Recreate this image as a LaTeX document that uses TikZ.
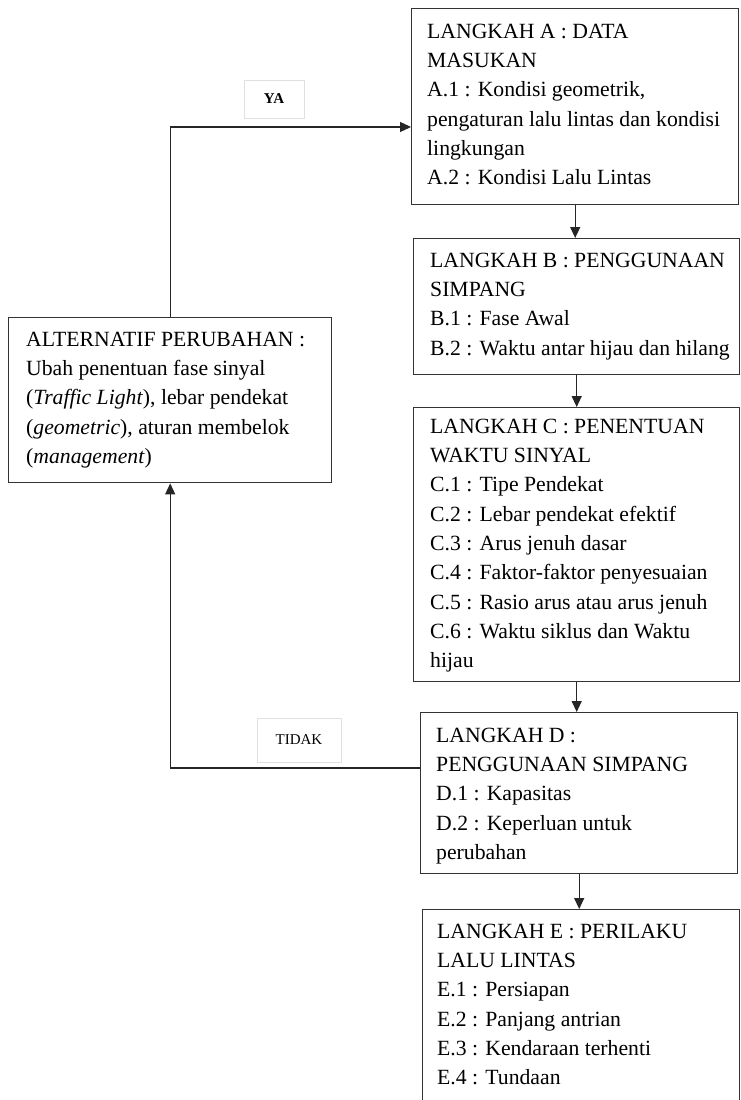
\documentclass[tikz,border=0pt]{standalone}
\usepackage{fontspec}
\setmainfont{Liberation Serif}
\usetikzlibrary{arrows.meta}
\begin{document}
\begin{tikzpicture}[x=1pt,y=-1pt,
  boxshape/.style={draw=black!80, line width=1.4pt, inner sep=0pt, anchor=north west},
  txt/.style={inner sep=0pt, anchor=north west, align=left, font=\fontsize{21.7}{29.3}\selectfont},
  lbl/.style={draw=black!12, line width=0.8pt, inner sep=0pt, font=\fontsize{15}{17}\selectfont},
  conn/.style={line width=1.3pt, draw=black!85},
  arr/.style={conn, -{Triangle[length=11pt,width=10pt]}}]
\useasboundingbox (0,0) rectangle (740,1100);
\fill[white] (0,0) rectangle (740,1100);

% boxes
\node[boxshape, minimum width=327pt, minimum height=196pt] (A) at (411,8) {};
\node[boxshape, minimum width=326pt, minimum height=136pt] (B) at (413,238) {};
\node[boxshape, minimum width=326pt, minimum height=274pt] (C) at (413,407) {};
\node[boxshape, minimum width=317pt, minimum height=161pt] (D) at (420,712) {};
\node[boxshape, minimum width=317pt, minimum height=210pt] (E) at (422,909) {};
\node[boxshape, minimum width=323pt, minimum height=165pt] (Alt) at (8,317) {};

% texts
\node[txt] (tA) at (427,17.5) {\strut LANGKAH A : DATA\\MASUKAN\\A.1 : Kondisi geometrik,\\pengaturan lalu lintas dan kondisi\\lingkungan\\A.2 : Kondisi Lalu Lintas};
\node[txt] (tB) at (430,246.5) {\strut LANGKAH B : PENGGUNAAN\\SIMPANG\\B.1 : Fase Awal\\B.2 : Waktu antar hijau dan hilang};
\node[txt] (tC) at (430,412.5) {\strut LANGKAH C : PENENTUAN\\WAKTU SINYAL\\C.1 : Tipe Pendekat\\C.2 : Lebar pendekat efektif\\C.3 : Arus jenuh dasar\\C.4 : Faktor-faktor penyesuaian\\C.5 : Rasio arus atau arus jenuh\\C.6 : Waktu siklus dan Waktu\\hijau};
\node[txt] (tD) at (436,721.5) {\strut LANGKAH D :\\PENGGUNAAN SIMPANG\\D.1 : Kapasitas\\D.2 : Keperluan untuk\\perubahan};
\node[txt] (tE) at (437,917.5) {\strut LANGKAH E : PERILAKU\\LALU LINTAS\\E.1 : Persiapan\\E.2 : Panjang antrian\\E.3 : Kendaraan terhenti\\E.4 : Tundaan};
\node[txt] (tAlt) at (26,325.5) {\strut ALTERNATIF PERUBAHAN :\\Ubah penentuan fase sinyal\\(\textit{Traffic Light}), lebar pendekat\\(\textit{geometric}), aturan membelok\\(\textit{management})};

% labels
\node[lbl, minimum width=60pt, minimum height=38pt] (ya) at (274,99) {\textbf{YA}};
\node[lbl, minimum width=84pt, minimum height=44pt] (tidak) at (299,740) {TIDAK};

% connectors
\coordinate (yaY) at (0,127);
\coordinate (tidakY) at (0,768);
\draw[arr] (A.south) -- (A.south |- B.north);
\draw[arr] (B.south) -- (B.south |- C.north);
\draw[arr] (C.south) -- (C.south |- D.north);
\draw[arr] (D.south) -- (D.south |- E.north);
\draw[arr] (D.west |- tidakY) -| (Alt.south);
\draw[arr] (Alt.north) |- (A.west |- yaY);
\end{tikzpicture}
\end{document}
